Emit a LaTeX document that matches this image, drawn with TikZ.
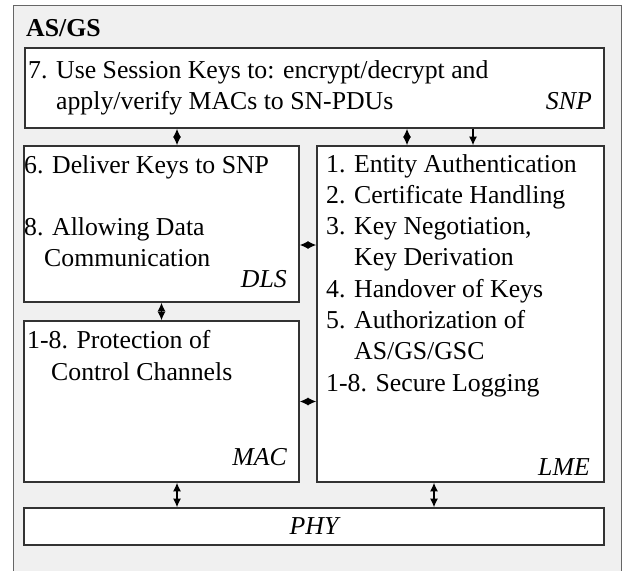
\documentclass[tikz,border=0pt]{standalone}
\usepackage{fontspec}
\setmainfont{Liberation Serif}
\usetikzlibrary{arrows.meta}
\definecolor{panel}{HTML}{F0F0F0}
\definecolor{edge}{HTML}{333333}
\definecolor{rim}{HTML}{666666}

\begin{document}
\begin{tikzpicture}[x=0.03cm,y=-0.03cm,
      font=\fontsize{22}{26.7}\selectfont,
      box/.style={draw=edge,line width=1.1pt,fill=white,inner sep=0pt},
      txt/.style={align=left,inner sep=0pt,anchor=base west},
      tag/.style={font=\fontsize{22}{26.7}\selectfont\itshape,inner sep=0pt,anchor=base east},
      link/.style={line width=1.2pt,{Latex[length=2.6mm,width=2.4mm]}-{Latex[length=2.6mm,width=2.4mm]}},
      feed/.style={line width=1.2pt,-{Latex[length=2.6mm,width=2.4mm]}}]

      \clip (0,0) rectangle (623,571);
      \draw[rim,fill=panel,line width=0.8pt] (13,5) rectangle (621,590);
      \node[font=\fontsize{22}{26.7}\selectfont\bfseries,anchor=base west,inner sep=0pt] (title) at (26,37) {AS/GS};

      \node[box,minimum width=17.37cm,minimum height=2.4cm] (snp) at (314.5,88) {};
      \node[box,minimum width=8.25cm,minimum height=4.68cm] (dls) at (161.5,224) {};
      \node[box,minimum width=8.61cm,minimum height=10.08cm] (lme) at (460.5,314) {};
      \node[box,minimum width=8.25cm,minimum height=4.83cm] (mac) at (161.5,401.5) {};
      \node[box,minimum width=17.4cm,minimum height=1.11cm] (phy) at (314,526.5) {\itshape PHY};

      % multi-line texts sit on the baseline of their last line
      \node[txt] (snptext) at (28,110) {7. Use Session Keys to: encrypt/decrypt and\\\phantom{7. }apply/verify MACs to SN-PDUs};
      \node[tag] (snptag) at (592,110) {SNP};
      \node[txt] (dlstext) at (24,267) {6. Deliver Keys to SNP\\[26.7pt]8. Allowing Data\\\hspace{0.6cm}Communication};
      \node[tag] (dlstag) at (287,287) {DLS};
      \node[txt] (mactext) at (27,380) {1-8. Protection of\\\hspace{0.72cm}Control Channels};
      \node[tag] (mactag) at (287,465) {MAC};
      \node[txt] (lmetext) at (326,391) {1. Entity Authentication\\2. Certificate Handling\\3. Key Negotiation,\\\phantom{3. }Key Derivation\\4. Handover of Keys\\5. Authorization of\\\phantom{5. }AS/GS/GSC\\1-8. Secure Logging};
      \node[tag] (lmetag) at (590,475) {LME};

      \draw[link] ([xshift=0.465cm]dls.north |- snp.south) -- ([xshift=0.465cm]dls.north);
      \draw[link] ([xshift=-1.605cm]lme.north |- snp.south) -- ([xshift=-1.605cm]lme.north);
      \draw[feed] ([xshift=0.375cm]lme.north |- snp.south) -- ([xshift=0.375cm]lme.north);
      \draw[link] ([yshift=-0.63cm]dls.east) -- ([yshift=-0.63cm]dls.east -| lme.west);
      \draw[link] (dls.south) -- (mac.north);
      \draw[link] (mac.east) -- (mac.east -| lme.west);
      \draw[link] ([xshift=0.465cm]mac.south) -- ([xshift=0.465cm]mac.south |- phy.north);
      \draw[link] ([xshift=-0.795cm]lme.south) -- ([xshift=-0.795cm]lme.south |- phy.north);

    \end{tikzpicture}
\end{document}
